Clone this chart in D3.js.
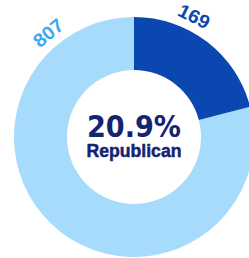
<!DOCTYPE html>
<html>
<head>
<meta charset="utf-8">
<script src="https://cdn.jsdelivr.net/npm/d3@7"></script>
<style>
  html, body { margin: 0; padding: 0; background: #fff; }
  svg { display: block; }
  text { font-family: "Liberation Sans", Arial, sans-serif; font-weight: bold; }
</style>
</head>
<body>
<svg id="chart" width="249" height="258"></svg>
<script>
// counts: republican vs total
var labels = ["Republican", "Total"];
var counts = [169, 807];
var shareText = "20.9%";
var centerLabel = "Republican";

var colors = ["#0a47b0", "#a6dbfc"];
var labelColors = ["#0a47b0", "#3fa8f0"];

var cx = 134, cy = 137, rOuter = 120, rInner = 67;

var svg = d3.select("#chart");
var g = svg.append("g").attr("transform", "translate(" + cx + "," + cy + ")");

// angle scale over the total
var angle = d3.scaleLinear().domain([0, counts[1]]).range([0, 2 * Math.PI]);

var arc = d3.arc().innerRadius(rInner).outerRadius(rOuter);

// light ring = total, dark slice = republican
var slices = [
    { start: angle(counts[0]), end: angle(counts[1]), color: colors[1] },
    { start: 0, end: angle(counts[0]), color: colors[0] }
];

g.selectAll("path.slice")
    .data(slices)
    .enter().append("path")
    .attr("class", "slice")
    .attr("d", function (d) { return arc({ startAngle: d.start, endAngle: d.end }); })
    .attr("fill", function (d) { return d.color; });

// outer labels, rotated along the ring
var labelAngles = [26.5, -39.5];   // degrees from 12 o'clock
var labelR = 135;
g.selectAll("text.lbl")
    .data(counts)
    .enter().append("text")
    .attr("class", "lbl")
    .attr("transform", function (d, i) {
        var a = labelAngles[i] * Math.PI / 180;
        var x = labelR * Math.sin(a), y = -labelR * Math.cos(a);
        return "translate(" + x + "," + y + ") rotate(" + labelAngles[i] + ")";
    })
    .attr("text-anchor", "middle")
    .attr("dy", "0.36em")
    .attr("font-size", 19)
    .attr("textLength", 33)
    .attr("lengthAdjust", "spacingAndGlyphs")
    .attr("fill", function (d, i) { return labelColors[i]; })
    .text(function (d) { return d; });

// center text
g.append("text")
    .attr("x", 0).attr("y", 0)
    .attr("text-anchor", "middle")
    .style("font-family", "'DejaVu Sans', sans-serif")
    .attr("font-size", 30)
    .attr("textLength", 94)
    .attr("lengthAdjust", "spacingAndGlyphs")
    .attr("fill", "#142470")
    .text(shareText);

g.append("text")
    .attr("x", 0).attr("y", 20)
    .attr("text-anchor", "middle")
    .attr("font-size", 18.5)
    .attr("textLength", 95)
    .attr("lengthAdjust", "spacingAndGlyphs")
    .attr("fill", "#142470")
    .attr("stroke", "#142470")
    .attr("stroke-width", 0.5)
    .text(centerLabel);
</script>
</body>
</html>
